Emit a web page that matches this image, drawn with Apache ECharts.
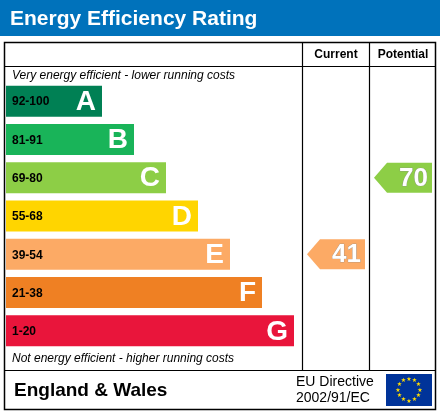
<!DOCTYPE html>
<html>
<head>
<meta charset="utf-8">
<script src="https://cdn.jsdelivr.net/npm/echarts@6/dist/echarts.min.js"></script>
<style>html,body{margin:0;padding:0;background:#fff}#main{width:440px;height:414px}</style>
</head>
<body>
<div id="main"></div>
<script>
// bands, top to bottom
var bandLetters = ['A', 'B', 'C', 'D', 'E', 'F', 'G'];
var bandRanges = ['92-100', '81-91', '69-80', '55-68', '39-54', '21-38', '1-20'];
var bandLows = [92, 81, 69, 55, 39, 21, 1];
var bandEnds = [96, 128, 160, 192, 224, 256, 288];
var bandColors = ['#008054', '#19b459', '#8dce46', '#ffd500', '#fcaa65', '#ef8023', '#e9153b'];
var currentRating = 41;
var potentialRating = 70;

function bandOf(r) {
  for (var i = 0; i < bandLows.length; i++) if (r >= bandLows[i]) return i;
  return 6;
}

var FONT = '"Liberation Sans", Arial, sans-serif';
var chart = echarts.init(document.getElementById('main'));

function arrowItem(x0, x1) {
  return function (params, api) {
    var idx = api.value(0);
    var c = api.coord([0, idx]);
    var h = 30, tip = 13, y = c[1];
    var col = bandColors[idx];
    return {
      type: 'group',
      children: [{
        type: 'polygon',
        shape: { points: [[x0, y], [x0 + tip, y - h / 2], [x1, y - h / 2], [x1, y + h / 2], [x0 + tip, y + h / 2]] },
        style: { fill: col }
      }, {
        type: 'text',
        style: { x: x1 - 4, y: y + 1, text: String(api.value(1)), fill: '#fff', stroke: '#888', lineWidth: 0.6,
          font: 'bold 26px ' + FONT, align: 'right', verticalAlign: 'middle' }
      }]
    };
  };
}

var bandData = bandLetters.map(function (l, i) { return [i, bandEnds[i]]; });

chart.setOption({
  animation: false,
  grid: { left: 6, right: 4, top: 82, bottom: 64 },
  xAxis: { type: 'value', min: 0, max: 430, show: false },
  yAxis: { type: 'category', data: bandLetters, inverse: true, show: false },
  graphic: [
    { type: 'rect', shape: { x: 0, y: 0, width: 440, height: 36 }, style: { fill: '#0072bb' } },
    { type: 'text', style: { x: 10, y: 19, text: 'Energy Efficiency Rating', fill: '#fff', font: 'bold 21px ' + FONT, verticalAlign: 'middle' } },
    { type: 'rect', shape: { x: 4.5, y: 42.5, width: 431, height: 367 }, style: { fill: 'none', stroke: '#000', lineWidth: 1.5 } },
    { type: 'line', shape: { x1: 4, y1: 66.5, x2: 436, y2: 66.5 }, style: { stroke: '#000', lineWidth: 1.2 } },
    { type: 'line', shape: { x1: 4, y1: 370.5, x2: 436, y2: 370.5 }, style: { stroke: '#000', lineWidth: 1.2 } },
    { type: 'line', shape: { x1: 302.5, y1: 42, x2: 302.5, y2: 370 }, style: { stroke: '#000', lineWidth: 1.2 } },
    { type: 'line', shape: { x1: 369.5, y1: 42, x2: 369.5, y2: 370 }, style: { stroke: '#000', lineWidth: 1.2 } },
    { type: 'text', style: { x: 336, y: 55, text: 'Current', font: 'bold 12px ' + FONT, align: 'center', verticalAlign: 'middle', fill: '#000' } },
    { type: 'text', style: { x: 403, y: 55, text: 'Potential', font: 'bold 12px ' + FONT, align: 'center', verticalAlign: 'middle', fill: '#000' } },
    { type: 'text', style: { x: 12, y: 76, text: 'Very energy efficient - lower running costs', font: 'italic 12px ' + FONT, verticalAlign: 'middle', fill: '#000' } },
    { type: 'text', style: { x: 12, y: 359, text: 'Not energy efficient - higher running costs', font: 'italic 12px ' + FONT, verticalAlign: 'middle', fill: '#000' } },
    { type: 'text', style: { x: 14, y: 391, text: 'England & Wales', font: 'bold 19px ' + FONT, verticalAlign: 'middle', fill: '#000' } },
    { type: 'text', style: { x: 296, y: 382, text: 'EU Directive', font: '14px ' + FONT, verticalAlign: 'middle', fill: '#000' } },
    { type: 'text', style: { x: 296, y: 398, text: '2002/91/EC', font: '14px ' + FONT, verticalAlign: 'middle', fill: '#000' } },
    { type: 'rect', shape: { x: 386, y: 374, width: 46, height: 32 }, style: { fill: '#003399' } }
  ].concat(Array.apply(null, Array(12)).map(function (_, k) {
    var a = k / 12 * Math.PI * 2;
    return { type: 'text', style: { x: 409 + 11 * Math.sin(a), y: 390 - 11 * Math.cos(a), text: '★', fill: '#ffdd00',
      font: '6px "DejaVu Sans"', align: 'center', verticalAlign: 'middle' } };
  })),
  series: [{
    type: 'custom',
    data: bandData,
    renderItem: function (params, api) {
      var idx = api.value(0);
      var s = api.coord([0, idx]), e = api.coord([api.value(1), idx]);
      var h = 31;
      return {
        type: 'group',
        children: [{
          type: 'rect', shape: { x: s[0], y: s[1] - h / 2, width: e[0] - s[0], height: h },
          style: { fill: bandColors[idx] }
        }, {
          type: 'text', style: { x: s[0] + 6, y: s[1] + 1, text: bandRanges[idx], fill: '#000',
            font: 'bold 12px ' + FONT, verticalAlign: 'middle' }
        }, {
          type: 'text', style: { x: e[0] - 6, y: s[1] + 1, text: bandLetters[idx], fill: '#fff',
            font: 'bold 28px ' + FONT, align: 'right', verticalAlign: 'middle' }
        }]
      };
    }
  }, {
    type: 'custom',
    data: [[bandOf(currentRating), currentRating]],
    renderItem: arrowItem(307, 365)
  }, {
    type: 'custom',
    data: [[bandOf(potentialRating), potentialRating]],
    renderItem: arrowItem(374, 432)
  }]
});
</script>
</body>
</html>
